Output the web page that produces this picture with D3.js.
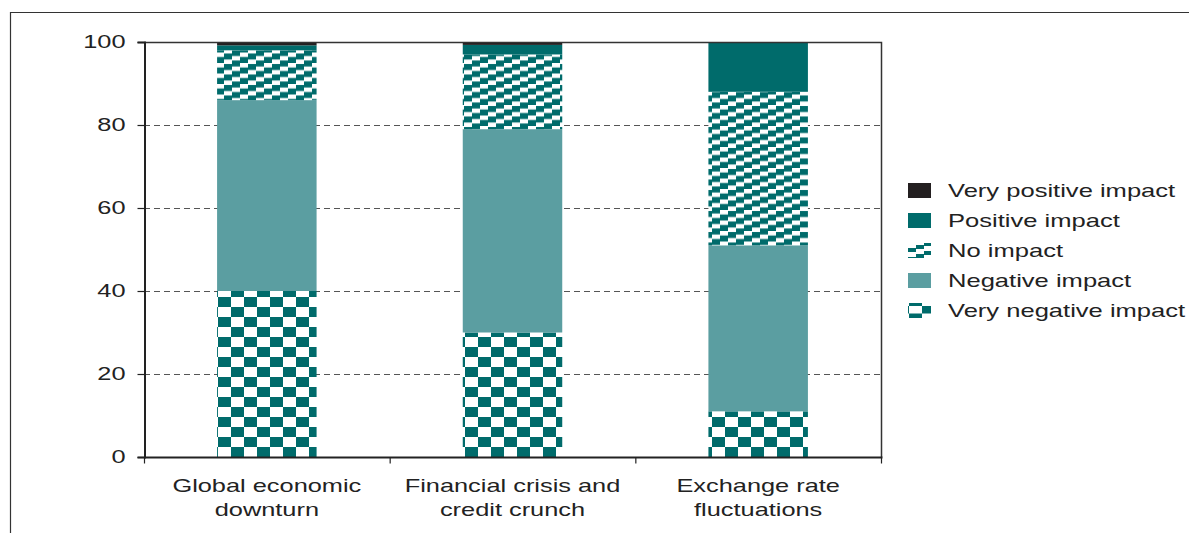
<!doctype html>
<html lang="en">
<head>
<meta charset="UTF-8">
<title>Impact chart</title>
<style>
  body { margin: 0; background: #fff; }
  svg { display: block; font-family: Arial, "Liberation Sans", sans-serif; }
</style>
</head>
<body>
<svg id="chart"></svg>
<script src="https://d3js.org/d3.v7.min.js"></script>
<script>
const categories = [["Global economic", "downturn"], ["Financial crisis and", "credit crunch"], ["Exchange rate", "fluctuations"]];
const series = ["Very negative impact", "Negative impact", "No impact", "Positive impact", "Very positive impact"];
const veryNegative = [40, 30, 11];
const negative = [46, 49, 40];
const noImpact = [12, 18, 37];
const positive = [1.2, 2.3, 12];
const veryPositive = [0.8, 0.7, 0];
const yTicks = [0, 20, 40, 60, 80, 100];

const width = 1189, height = 533;
const stretch = 1.45; // the original is wider than tall, text too
const svg = d3.select('#chart').attr('width', width).attr('height', height);

const teal = '#006b6b';
const defs = svg.append('defs');

function checker(id, cw, ch, ox, oy) {
  const p = defs.append('pattern').attr('id', id)
    .attr('patternUnits', 'userSpaceOnUse').attr('width', cw * 2).attr('height', ch * 2)
    .attr('x', ox).attr('y', oy);
  p.append('rect').attr('width', cw * 2).attr('height', ch * 2).attr('fill', '#fff');
  p.append('rect').attr('x', 0).attr('y', 0).attr('width', cw).attr('height', ch).attr('fill', teal);
  p.append('rect').attr('x', cw).attr('y', ch).attr('width', cw).attr('height', ch).attr('fill', teal);
}
function stairs(id, stepW, stepH, band) {
  const H = stepH * 3;
  const p = defs.append('pattern').attr('id', id)
    .attr('patternUnits', 'userSpaceOnUse').attr('width', stepW * 3).attr('height', H);
  p.append('rect').attr('width', stepW * 3).attr('height', H).attr('fill', '#fff');
  for (let k = 0; k < 3; k++) {
    const y0 = H - stepH * k - band;
    [y0 - H, y0, y0 + H].forEach(yy => {
      p.append('rect').attr('x', stepW * k).attr('y', yy)
        .attr('width', stepW).attr('height', band).attr('fill', teal);
    });
  }
}
checker('checker', 13, 10, 218, 457);
stairs('stripes', 8, 3.5, 6);
checker('checkerLeg', 13, 7.5, 898, 303);
stairs('stripesLeg', 8, 3, 4);

const fills = {
  "Very negative impact": 'url(#checker)',
  "Negative impact": '#5b9ea1',
  "No impact": 'url(#stripes)',
  "Positive impact": teal,
  "Very positive impact": '#231f20'
};
const legendFills = Object.assign({}, fills, {
  "Very negative impact": 'url(#checkerLeg)',
  "No impact": 'url(#stripesLeg)'
});

// outer frame
svg.append('path').attr('d', `M10.5,${height} L10.5,12.5 L${width},12.5`)
  .attr('fill', 'none').attr('stroke', '#333').attr('stroke-width', 1.2);

const plotL = 144, plotR = 881, plotT = 42, plotB = 457;
const x = d3.scaleBand().domain(d3.range(categories.length)).range([plotL, plotR]).paddingInner(0).paddingOuter(0);
const y = d3.scaleLinear().domain([0, 100]).range([plotB, plotT]);

// dashed grid
svg.append('g').selectAll('line').data(yTicks.filter(t => t > 0 && t < 100)).join('line')
  .attr('x1', plotL).attr('x2', plotR).attr('y1', d => y(d) + 0.5).attr('y2', d => y(d) + 0.5)
  .attr('stroke', '#555').attr('stroke-dasharray', '6,4').attr('stroke-width', 1);

// stacked bars
const rows = categories.map((c, i) => ({
  i,
  "Very negative impact": veryNegative[i],
  "Negative impact": negative[i],
  "No impact": noImpact[i],
  "Positive impact": positive[i],
  "Very positive impact": veryPositive[i]
}));
const stack = d3.stack().keys(series)(rows);
const barW = x.bandwidth() * 0.405;

svg.append('g').selectAll('g').data(stack).join('g')
  .attr('fill', d => fills[d.key])
  .selectAll('rect').data(d => d).join('rect')
  .attr('x', d => x(d.data.i) + (x.bandwidth() - barW) / 2)
  .attr('y', d => y(d[1]))
  .attr('width', barW)
  .attr('height', d => y(d[0]) - y(d[1]));

// plot frame: top and right
svg.append('path').attr('d', `M${plotL},${plotT + 0.5} L${plotR + 0.5},${plotT + 0.5} L${plotR + 0.5},${plotB}`)
  .attr('fill', 'none').attr('stroke', '#333').attr('stroke-width', 1.5);

// y axis
const yAxis = svg.append('g').attr('transform', `translate(${plotL + 0.5},0)`)
  .call(d3.axisLeft(y).tickValues(yTicks).tickSize(7));
yAxis.select('.domain').attr('stroke', '#222').attr('stroke-width', 2);
yAxis.selectAll('.tick line').attr('stroke', '#222').attr('stroke-width', 1.2);
yAxis.selectAll('.tick text').attr('x', 0)
  .attr('transform', `translate(-19,0) scale(${stretch},1)`)
  .attr('font-size', 17.5).attr('fill', '#222').attr('font-family', 'Arial, "Liberation Sans", sans-serif');

// x axis
const xAxis = svg.append('g').attr('transform', `translate(0,${plotB + 0.5})`);
xAxis.append('line').attr('x1', plotL).attr('x2', plotR + 1.5).attr('stroke', '#222').attr('stroke-width', 2);
const edges = d3.range(categories.length + 1).map(i => i < categories.length ? x(i) : x(i - 1) + x.bandwidth());
xAxis.selectAll('line.tk').data(edges).join('line').attr('class', 'tk')
  .attr('x1', d => d + 0.5).attr('x2', d => d + 0.5).attr('y1', 0).attr('y2', 6)
  .attr('stroke', '#222').attr('stroke-width', 1.2);
xAxis.selectAll('text').data(categories).join('text')
  .attr('text-anchor', 'middle').attr('font-size', 17.5).attr('fill', '#222')
  .attr('transform', (d, i) => `translate(${x(i) + x.bandwidth() / 2},0) scale(${stretch},1)`)
  .selectAll('tspan').data(d => d).join('tspan')
  .attr('x', 0).attr('y', (d, j) => 35 + j * 24).text(d => d);

// legend
const legendOrder = series.slice().reverse();
const legend = svg.append('g').attr('transform', 'translate(908,183)');
const item = legend.selectAll('g').data(legendOrder).join('g')
  .attr('transform', (d, i) => `translate(0,${i * 30})`);
item.append('rect').attr('width', 23).attr('height', 15).attr('fill', d => legendFills[d]);
item.append('text').attr('transform', `translate(40,14) scale(1.42,1)`)
  .attr('font-size', 18).attr('fill', '#222').text(d => d);
</script>
</body>
</html>
